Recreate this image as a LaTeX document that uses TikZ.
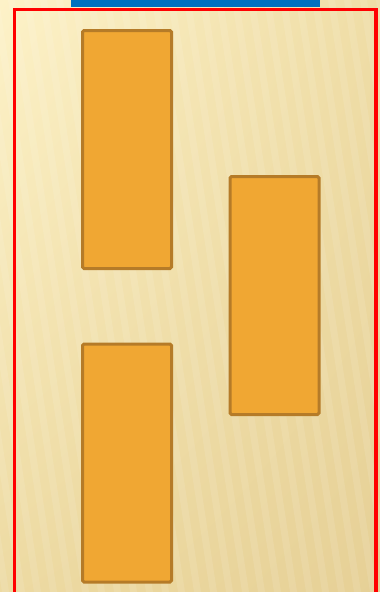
\documentclass[tikz,border=0pt]{standalone}
\usetikzlibrary{shadings}
\definecolor{bgUL}{HTML}{FDF2C8}
\definecolor{bgUR}{HTML}{EFDDA6}
\definecolor{bgLL}{HTML}{EDDAA2}
\definecolor{bgLR}{HTML}{E6D096}
\definecolor{barblue}{HTML}{0070C0}
\definecolor{boxfill}{HTML}{F0A733}
\definecolor{boxedge}{HTML}{B57B28}
\definecolor{framered}{HTML}{FF0000}
\tikzset{
  orangebox/.style={draw=boxedge, fill=boxfill, line width=3pt, rounded corners=1.5pt,
    minimum width=89pt, minimum height=238pt, inner sep=0pt, outer sep=0pt},
}
\begin{document}
\begin{tikzpicture}[x=1pt,y=-1pt]
\useasboundingbox (0,0) rectangle (380,592);
% background
\shade[upper left=bgUL, upper right=bgUR, lower left=bgLL, lower right=bgLR] (0,0) rectangle (380,592);
\begin{scope}
\clip (0,0) rectangle (380,592);
\foreach \i in {-200,-184,...,400}{
  \fill[white, opacity=0.10] (\i,0) -- (\i+7,0) -- (\i+7+90,592) -- (\i+90,592) -- cycle;
}
\end{scope}
% blue bar
\fill[barblue] (71,0) rectangle (320,7);
% red frame
\draw[framered, line width=3.2pt] (14.5,600) -- (14.5,9.5) -- (376,9.5) -- (376,600);
% boxes
\node[orangebox] (b1) at (127,149.5) {};
\node[orangebox] (b2) at (127,463) {};
\node[orangebox] (b3) at (274.5,295.5) {};
\end{tikzpicture}
\end{document}
